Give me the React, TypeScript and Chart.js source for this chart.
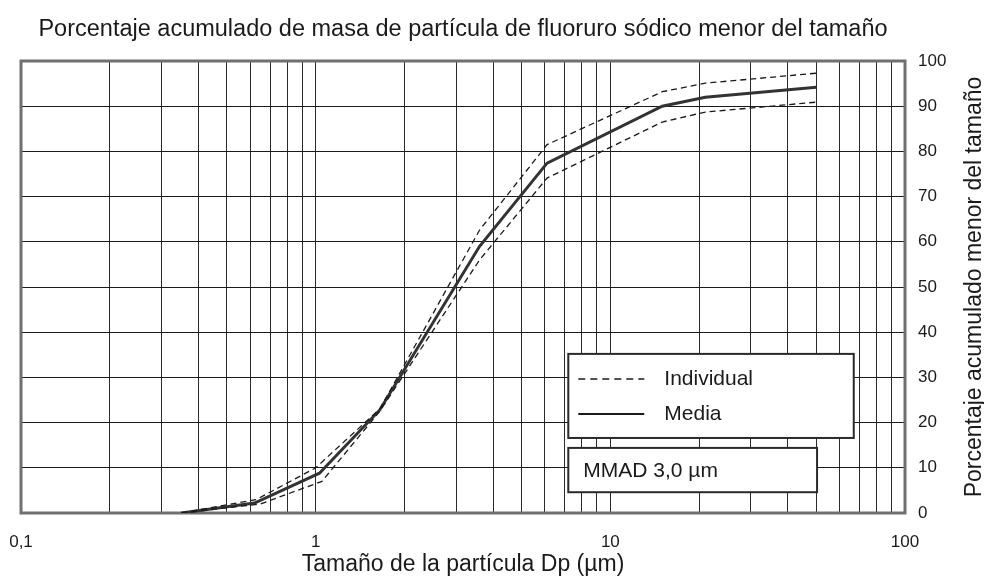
import React, { useEffect, useRef } from "react";
import { Chart, registerables } from "chart.js";

Chart.register(...registerables);

const titleText = "Porcentaje acumulado de masa de partícula de fluoruro sódico menor del tamaño";
const xTitleText = "Tamaño de la partícula Dp (µm)";
const yTitleText = "Porcentaje acumulado menor del tamaño";
const legendLabels = ["Individual", "Media"];
const mmadText = "MMAD 3,0 µm";

// Particle size (µm) and cumulative % for each curve
const meanSize = [0.35, 0.62, 1.03, 1.65, 3.6, 6.1, 15, 21, 50];
const meanPct = [0, 2.2, 8.8, 22.8, 59, 77.4, 90, 92, 94.2];

const upperSize = [0.35, 0.63, 1.0, 1.65, 3.6, 6.1, 15, 21, 50];
const upperPct = [0, 3.0, 10, 23, 62.6, 81.5, 93.2, 95.1, 97.3];

const lowerSize = [0.35, 0.65, 1.05, 1.65, 3.6, 6.1, 15, 21, 50];
const lowerPct = [0, 2.0, 7.0, 22.5, 56, 74.1, 86.5, 88.7, 90.9];

const xDecades = [0.1, 1, 10];
const xMultipliers = [1, 2, 3, 4, 5, 6, 7, 8, 9];
const xMax = 100;
const yTicksStep = 10;

const FONT = "'Liberation Sans', Arial, sans-serif";
const TEXT = "#1a1a1a";

function pts(xs: number[], ys: number[]) {
  return xs.map((x, i) => ({ x, y: ys[i] }));
}

const xTickValues: number[] = [];
xDecades.forEach((d) => xMultipliers.forEach((m) => xTickValues.push(+(d * m).toPrecision(6))));
xTickValues.push(xMax);

const isPow10 = (v: number) => Math.abs(Math.log10(v) - Math.round(Math.log10(v))) < 1e-9;

const overlayPlugin = {
  id: "overlay",
  beforeDatasetsDraw(chart: any) {
    const { ctx, chartArea: a } = chart;
    ctx.save();
    ctx.strokeStyle = "#707070";
    ctx.lineWidth = 3;
    ctx.strokeRect(a.left, a.top, a.right - a.left, a.bottom - a.top);
    ctx.restore();
  },
  afterDraw(chart: any) {
    const { ctx, chartArea: a, scales } = chart;
    const xs = scales.x;
    const ys = scales.y;
    ctx.save();
    ctx.fillStyle = TEXT;
    ctx.textBaseline = "middle";
    ctx.textAlign = "center";
    // Title
    ctx.font = `23.5px ${FONT}`;
    ctx.fillText(titleText, (a.left + a.right) / 2, 30);
    // X title
    ctx.font = `23px ${FONT}`;
    ctx.fillText(xTitleText, (a.left + a.right) / 2, 565);
    // Y title (bottom to top)
    ctx.save();
    ctx.translate(975, (a.top + a.bottom) / 2);
    ctx.rotate(-Math.PI / 2);
    ctx.fillText(yTitleText, 0, 0);
    ctx.restore();

    // Legend box
    const lx1 = xs.getPixelForValue(7.2);
    const lx2 = xs.getPixelForValue(67);
    const ly1 = ys.getPixelForValue(35.2);
    const ly2 = ys.getPixelForValue(16.6);
    ctx.fillStyle = "#ffffff";
    ctx.fillRect(lx1, ly1, lx2 - lx1, ly2 - ly1);
    ctx.strokeStyle = "#2a2a2a";
    ctx.lineWidth = 2;
    ctx.strokeRect(lx1, ly1, lx2 - lx1, ly2 - ly1);

    const sx1 = lx1 + 10;
    const sx2 = lx1 + 76;
    const row1 = ly1 + 25;
    const row2 = ly1 + 60;
    ctx.strokeStyle = "#1a1a1a";
    ctx.lineWidth = 1.5;
    ctx.setLineDash([7, 5]);
    ctx.beginPath();
    ctx.moveTo(sx1, row1);
    ctx.lineTo(sx2, row1);
    ctx.stroke();
    ctx.setLineDash([]);
    ctx.lineWidth = 2;
    ctx.beginPath();
    ctx.moveTo(sx1, row2);
    ctx.lineTo(sx2, row2);
    ctx.stroke();
    ctx.fillStyle = TEXT;
    ctx.textAlign = "left";
    ctx.font = `21px ${FONT}`;
    ctx.fillText(legendLabels[0], lx1 + 96, row1);
    ctx.fillText(legendLabels[1], lx1 + 96, row2);

    // MMAD box
    const mx1 = lx1;
    const mx2 = xs.getPixelForValue(50.3);
    const my1 = ys.getPixelForValue(14.4);
    const my2 = ys.getPixelForValue(4.6);
    ctx.fillStyle = "#ffffff";
    ctx.fillRect(mx1, my1, mx2 - mx1, my2 - my1);
    ctx.strokeStyle = "#2a2a2a";
    ctx.lineWidth = 2;
    ctx.strokeRect(mx1, my1, mx2 - mx1, my2 - my1);
    ctx.fillStyle = TEXT;
    ctx.fillText(mmadText, mx1 + 15, (my1 + my2) / 2 + 1);
    ctx.restore();
  },
};

export default function App() {
  const ref = useRef<HTMLCanvasElement | null>(null);
  useEffect(() => {
    document.body.style.margin = "0";
    const canvas = ref.current;
    if (!canvas) return;
    const chart = new Chart(canvas, {
      type: "scatter",
      data: {
        datasets: [
          {
            label: "Individual",
            data: pts(upperSize, upperPct),
            showLine: true,
            borderColor: "#1a1a1a",
            borderWidth: 1.3,
            borderDash: [6, 4],
            pointRadius: 0,
            fill: false,
          },
          {
            label: "Individual",
            data: pts(lowerSize, lowerPct),
            showLine: true,
            borderColor: "#1a1a1a",
            borderWidth: 1.3,
            borderDash: [6, 4],
            pointRadius: 0,
            fill: false,
          },
          {
            label: "Media",
            data: pts(meanSize, meanPct),
            showLine: true,
            borderColor: "#333333",
            borderWidth: 3,
            pointRadius: 0,
            fill: false,
          },
        ],
      },
      options: {
        responsive: false,
        animation: false,
        layout: { padding: { left: 21, top: 61, right: 0, bottom: 0 } },
        plugins: {
          legend: { display: false },
          title: { display: false },
          tooltip: { enabled: false },
        },
        scales: {
          x: {
            type: "logarithmic",
            min: 0.1,
            max: xMax,
            afterBuildTicks: (scale: any) => {
              scale.ticks = xTickValues.map((v) => ({ value: v }));
            },
            afterFit: (scale: any) => {
              scale.height = 63;
              scale.paddingLeft = 0;
              scale.paddingRight = 0;
            },
            grid: { color: "#2a2a2a", lineWidth: 1, drawTicks: false },
            border: { display: false },
            ticks: {
              autoSkip: false,
              maxRotation: 0,
              padding: 19,
              color: TEXT,
              font: { family: FONT, size: 17 },
              callback: (v: any) => (isPow10(Number(v)) ? String(Number(v)).replace(".", ",") : ""),
            },
          },
          y: {
            position: "right",
            min: 0,
            max: 100,
            afterFit: (scale: any) => {
              scale.width = 79;
              scale.paddingTop = 0;
              scale.paddingBottom = 0;
            },
            grid: { color: "#1a1a1a", lineWidth: 1, drawTicks: false },
            border: { display: false },
            ticks: {
              stepSize: yTicksStep,
              padding: 13,
              color: TEXT,
              font: { family: FONT, size: 17 },
            },
          },
        },
      },
      plugins: [overlayPlugin],
    });
    return () => chart.destroy();
  }, []);
  return <canvas ref={ref} width={984} height={576} style={{ display: "block" }} />;
}
